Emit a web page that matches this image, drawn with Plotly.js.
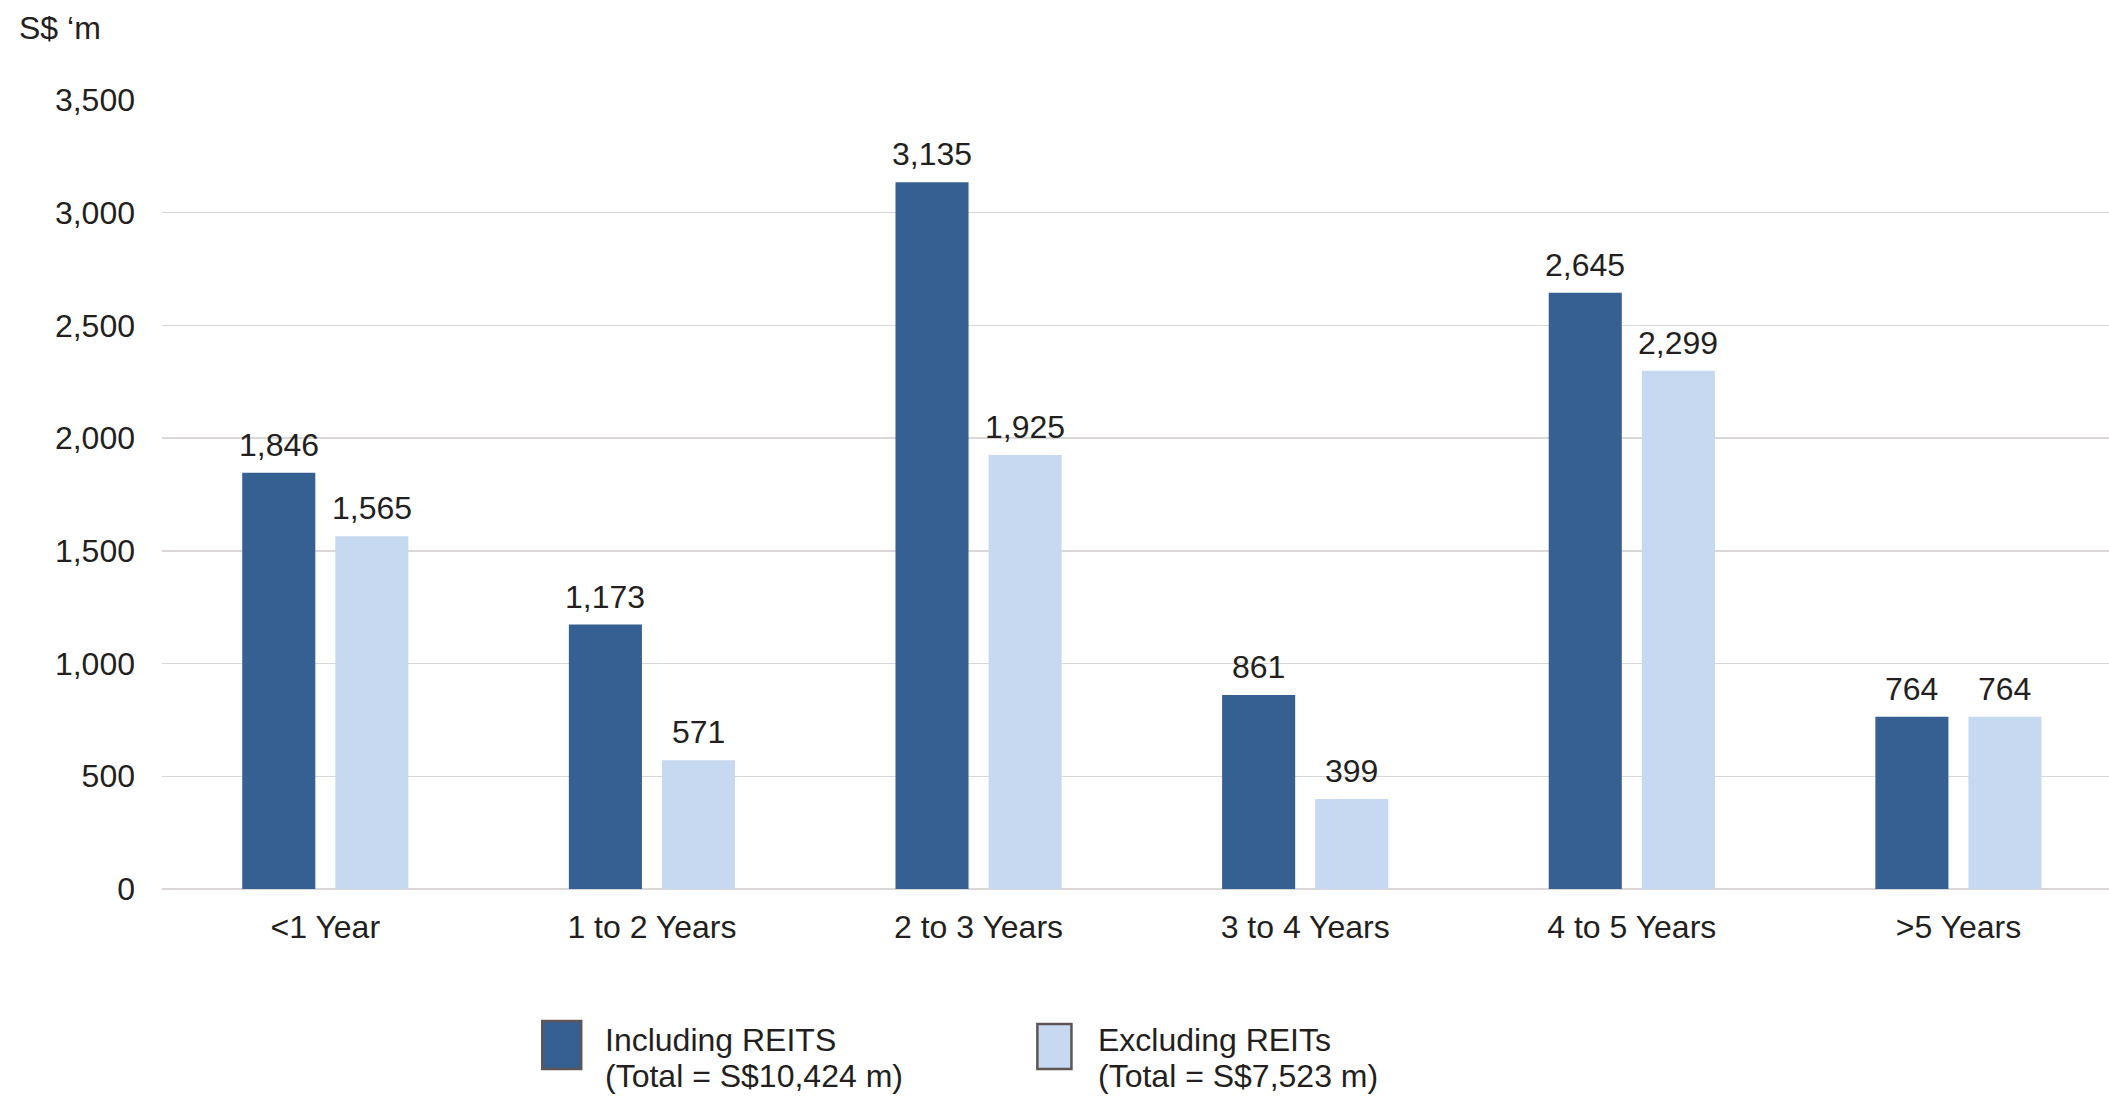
<!DOCTYPE html>
<html>
<head>
<meta charset="utf-8">
<script src="https://cdn.plot.ly/plotly-3.0.1.min.js"></script>
<style>html,body{margin:0;padding:0;background:#fff;}#chart{width:2109px;height:1096px;}</style>
</head>
<body>
<div id="chart"></div>
<script>
const categories = ['<1 Year', '1 to 2 Years', '2 to 3 Years', '3 to 4 Years', '4 to 5 Years', '>5 Years'];
const includingREITs = [1846, 1173, 3135, 861, 2645, 764];
const excludingREITs = [1565, 571, 1925, 399, 2299, 764];
const seriesNames = ['Including REITS', 'Excluding REITs'];
const seriesTotals = ['(Total = S$10,424 m)', '(Total = S$7,523 m)'];
const yTickVals = [0, 500, 1000, 1500, 2000, 2500, 3000, 3500];
const yUnit = 'S$ \u2018m';

const darkBlue = '#366092';
const lightBlue = '#c6d9f0';
const textColor = '#231f20';
const gridColor = '#dcd7d7';
const fontFamily = '"Liberation Sans", Arial, Helvetica, sans-serif';
const fontSize = 32;
const baseFont = {family: fontFamily, size: fontSize, color: textColor};

const traces = [
  {type: 'bar', name: seriesNames[0], x: categories, y: includingREITs,
   marker: {color: darkBlue}, hoverinfo: 'x+y'},
  {type: 'bar', name: seriesNames[1], x: categories, y: excludingREITs,
   marker: {color: lightBlue}, hoverinfo: 'x+y'}
];

// value labels above each bar, placed through the axis scales
const fmt = v => v.toLocaleString('en-US');
const groupOffset = 46.5; // half of one bar slot in px
const valueLabels = [];
[includingREITs, excludingREITs].forEach((vals, s) => {
  vals.forEach((v, i) => {
    valueLabels.push({
      xref: 'x', yref: 'y', x: categories[i], y: v,
      xshift: s === 0 ? -groupOffset : groupOffset, yshift: 8,
      yanchor: 'bottom', xanchor: 'center', showarrow: false,
      text: fmt(v), font: baseFont
    });
  });
});

const legendTextX = [0.2265, 0.4795];
const legendLines = [];
seriesNames.forEach((name, s) => {
  legendLines.push({xref: 'paper', yref: 'paper', x: legendTextX[s], y: -0.1914,
    xanchor: 'left', yanchor: 'middle', align: 'left', showarrow: false, text: name, font: baseFont});
  legendLines.push({xref: 'paper', yref: 'paper', x: legendTextX[s], y: -0.2365,
    xanchor: 'left', yanchor: 'middle', align: 'left', showarrow: false, text: seriesTotals[s], font: baseFont});
});

const layout = {
  width: 2109, height: 1096,
  margin: {l: 162, r: 0, t: 100, b: 207},
  paper_bgcolor: '#ffffff', plot_bgcolor: '#ffffff',
  font: baseFont,
  barmode: 'group', bargap: 0.43, bargroupgap: 0.215,
  showlegend: false,
  xaxis: {
    type: 'category', range: [-0.5, 5.461], showgrid: false, showline: false, zeroline: false,
    ticks: '', tickfont: baseFont, ticklabelstandoff: 16, fixedrange: true
  },
  yaxis: {
    range: [0, 3500], tickvals: yTickVals, tickformat: ',',
    showgrid: true, gridcolor: gridColor, gridwidth: 1.5,
    zeroline: true, zerolinecolor: gridColor, zerolinewidth: 1.5,
    showline: false, ticks: '', ticklabelstandoff: 26,
    tickfont: baseFont, fixedrange: true
  },
  shapes: [
    {type: 'rect', xref: 'paper', yref: 'paper', x0: 0.1953, x1: 0.2153, y0: -0.2281, y1: -0.1673,
     fillcolor: darkBlue, line: {color: '#5e5555', width: 2.5}},
    {type: 'rect', xref: 'paper', yref: 'paper', x0: 0.4496, x1: 0.4671, y0: -0.2281, y1: -0.1711,
     fillcolor: lightBlue, line: {color: '#5e5555', width: 2.5}}
  ],
  annotations: valueLabels.concat(legendLines, [
    {xref: 'paper', yref: 'paper', x: -0.0745, y: 1.0913, xanchor: 'left', yanchor: 'middle',
     showarrow: false, text: yUnit, font: baseFont}
  ])
};

Plotly.newPlot('chart', traces, layout, {displayModeBar: false, staticPlot: true});
</script>
</body>
</html>
